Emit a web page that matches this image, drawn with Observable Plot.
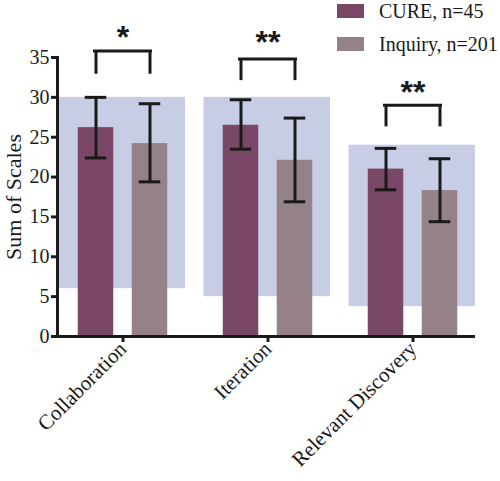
<!DOCTYPE html>
<html>
<head>
<meta charset="utf-8">
<script src="https://cdn.jsdelivr.net/npm/d3@7"></script>
<script src="https://cdn.jsdelivr.net/npm/@observablehq/plot@0.6"></script>
<style>
  body { margin: 0; background: white; }
  #wrap { position: relative; width: 500px; height: 481px; }
  .legend { position: absolute; left: 337px; top: 0; font-family: "Liberation Serif", serif; font-size: 20px; line-height: 23px; color: #1a1a1a; }
  .legend .row { position: absolute; left: 0; display: flex; white-space: nowrap; height: 23px; }
  .legend .sw { width: 27px; height: 14px; margin-top: 4px; margin-right: 15px; flex: none; }
</style>
</head>
<body>
<div id="wrap"></div>
<script>
const categories = ["Collaboration", "Iteration", "Relevant Discovery"];
const cureMean = [26.2, 26.5, 21.0];
const cureLow = [22.4, 23.5, 18.4];
const cureHigh = [30.0, 29.7, 23.6];
const inquiryMean = [24.2, 22.1, 18.3];
const inquiryLow = [19.4, 16.9, 14.4];
const inquiryHigh = [29.2, 27.4, 22.3];
const rangeLow = [6, 5, 3.75];
const rangeHigh = [30, 30, 24];
const bracketTop = [35.8, 34.8, 29.0];
const bracketLeg = [32.9, 32.1, 26.3];
const stars = ["*", "**", "**"];
const starY = [38.0, 37.3, 31.1];
const yTicks = [0, 5, 10, 15, 20, 25, 30, 35];

const cureColor = "#7a4766";
const inquiryColor = "#958288";
const ink = "#1a1a1a";

const rows = categories.map((cat, i) => ({
  cat,
  cure: cureMean[i], cureLo: cureLow[i], cureHi: cureHigh[i],
  inq: inquiryMean[i], inqLo: inquiryLow[i], inqHi: inquiryHigh[i],
  lo: rangeLow[i], hi: rangeHigh[i],
  brTop: bracketTop[i], brLeg: bracketLeg[i],
  star: stars[i], starY: starY[i]
}));

const barInset = 54.75;  // bar width ~36 in a 145.5 band
const capInset = 61.75;  // error cap width ~22
const off = 27;

const chart = Plot.plot({
  width: 500,
  height: 481,
  marginLeft: 57,
  marginRight: 25,
  marginTop: 57,
  marginBottom: 145,
  style: {fontFamily: "Liberation Serif", fontSize: "20px", background: "white", color: ink},
  x: {type: "band", domain: categories, range: [49.25, 485.75], padding: 0, axis: null},
  y: {domain: [0, 35], axis: null},
  marks: [
    // background ranges
    Plot.barY(rows, {x: "cat", y1: "lo", y2: "hi", fill: "#c6cde4", insetLeft: 9.5, insetRight: 9, dx: -1}),
    // bars
    Plot.barY(rows, {x: "cat", y: "cure", fill: cureColor, dx: -off, insetLeft: barInset, insetRight: barInset}),
    Plot.barY(rows, {x: "cat", y: "inq", fill: inquiryColor, dx: off, insetLeft: barInset, insetRight: barInset}),
    // error bars
    Plot.ruleX(rows, {x: "cat", y1: "cureLo", y2: "cureHi", dx: -off, stroke: ink, strokeWidth: 3}),
    Plot.tickY(rows, {x: "cat", y: "cureLo", dx: -off, stroke: ink, strokeWidth: 3, insetLeft: capInset, insetRight: capInset}),
    Plot.tickY(rows, {x: "cat", y: "cureHi", dx: -off, stroke: ink, strokeWidth: 3, insetLeft: capInset, insetRight: capInset}),
    Plot.ruleX(rows, {x: "cat", y1: "inqLo", y2: "inqHi", dx: off, stroke: ink, strokeWidth: 3}),
    Plot.tickY(rows, {x: "cat", y: "inqLo", dx: off, stroke: ink, strokeWidth: 3, insetLeft: capInset, insetRight: capInset}),
    Plot.tickY(rows, {x: "cat", y: "inqHi", dx: off, stroke: ink, strokeWidth: 3, insetLeft: capInset, insetRight: capInset}),
    // significance brackets
    Plot.tickY(rows, {x: "cat", y: "brTop", stroke: ink, strokeWidth: 3, insetLeft: 44.5, insetRight: 44.5, strokeLinecap: "square"}),
    Plot.ruleX(rows, {x: "cat", y1: "brLeg", y2: "brTop", dx: -off, stroke: ink, strokeWidth: 3}),
    Plot.ruleX(rows, {x: "cat", y1: "brLeg", y2: "brTop", dx: off, stroke: ink, strokeWidth: 3}),
    Plot.text(rows, {x: "cat", y: "starY", text: "star", fontFamily: "Liberation Sans", fontWeight: "bold", fontSize: 32, fill: ink, lineAnchor: "middle", dy: 4}),
    // axes
    Plot.axisY({ticks: yTicks, tickSize: 6, tickPadding: 2, fontSize: 20, strokeWidth: 3, stroke: ink, fill: ink,
      label: "Sum of Scales", labelAnchor: "center", labelArrow: "none", labelOffset: 52}),
    Plot.axisX({tickRotate: -45, tickSize: 6, tickPadding: 3, fontSize: 21, strokeWidth: 3, stroke: ink, fill: ink, label: null}),
    Plot.ruleY([0], {stroke: ink, strokeWidth: 3}),
    Plot.frame({anchor: "left", stroke: ink, strokeWidth: 3})
  ]
});

// y label a bit larger than the tick labels
d3.select(chart).selectAll("[aria-label='y-axis label'] text").attr("font-size", 22);

const wrap = document.getElementById("wrap");
wrap.append(chart);

const legend = document.createElement("div");
legend.className = "legend";
legend.innerHTML = `
  <div class="row" style="top:0"><span class="sw" style="background:${cureColor}"></span><span>CURE, n=45</span></div>
  <div class="row" style="top:33px"><span class="sw" style="background:${inquiryColor}"></span><span>Inquiry, n=201</span></div>`;
wrap.append(legend);
</script>
</body>
</html>
